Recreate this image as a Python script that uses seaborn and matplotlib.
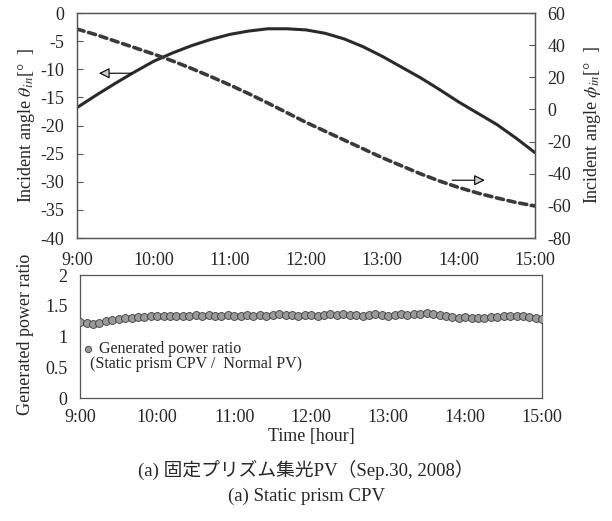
import numpy as np
import pandas as pd
import matplotlib
matplotlib.use("Agg")
import matplotlib.pyplot as plt
import seaborn as sns

# ---------------- data ----------------
hour_ticks = [9, 10, 11, 12, 13, 14, 15]
hour_labels = ["9:00", "10:00", "11:00", "12:00", "13:00", "14:00", "15:00"]

# angles every 15 minutes from 9:00 to 15:00
angle_time = np.arange(9.0, 15.001, 0.25)
theta_in = [-16.8, -14.6, -12.5, -10.5, -8.6, -7.1, -5.8, -4.7, -3.8, -3.2, -2.8,
            -2.8, -3.0, -3.6, -4.6, -6.0, -7.7, -9.6, -11.5, -13.6, -15.8, -17.8,
            -19.8, -22.2, -24.8]
phi_in = [50, 46.5, 42.5, 38.5, 34.5, 30.2, 25.5, 20.5, 15.3, 9.8, 4, -2, -8, -13.5,
          -19, -24.5, -30, -35, -40, -44.5, -48.5, -52, -55, -57.8, -60]

# generated power ratio every 5 minutes
ratio_time = np.arange(9.0, 15.001, 5 / 60)
power_ratio = [1.23, 1.22, 1.21, 1.22, 1.25, 1.27, 1.29, 1.30, 1.31, 1.32, 1.32, 1.33,
               1.33, 1.33, 1.34, 1.34, 1.33, 1.34, 1.35, 1.34, 1.35, 1.34, 1.34, 1.35,
               1.34, 1.34, 1.35, 1.34, 1.35, 1.34, 1.35, 1.36, 1.35, 1.35, 1.34, 1.35,
               1.35, 1.34, 1.35, 1.36, 1.35, 1.36, 1.35, 1.35, 1.34, 1.35, 1.36, 1.35,
               1.34, 1.35, 1.36, 1.35, 1.36, 1.37, 1.38, 1.37, 1.35, 1.33, 1.32, 1.31,
               1.32, 1.30, 1.30, 1.31, 1.32, 1.32, 1.33, 1.34, 1.33, 1.33, 1.32, 1.30,
               1.28]

left_ticks = [0, -5, -10, -15, -20, -25, -30, -35, -40]
right_ticks = [60, 40, 20, 0, -20, -40, -60, -80]
ratio_ticks = [0, 0.5, 1, 1.5, 2]
ratio_tick_labels = ["0", "0.5", "1", "1.5", "2"]

# ---------------- style ----------------
sns.set_style("white")
plt.rcParams["font.family"] = ["Liberation Serif", "Noto Sans CJK JP"]
plt.rcParams["mathtext.fontset"] = "stix"
FS = 13
spine_c = "#555555"

fig = plt.figure(figsize=(6.12, 5.21), dpi=100)
ax1 = fig.add_axes([0.126, 0.543, 0.748, 0.432])
ax2 = ax1.twinx()
ax3 = fig.add_axes([0.131, 0.236, 0.755, 0.236])

df_a = pd.DataFrame({"t": angle_time, "theta": theta_in, "phi": phi_in})
sns.lineplot(data=df_a, x="t", y="theta", ax=ax1, color="#2a2a2a", lw=2.2)
sns.lineplot(data=df_a, x="t", y="phi", ax=ax2, color="#3a3a3a", lw=2.6)
ax2.lines[0].set_dashes([2.0, 1.3])
ax2.lines[0].set_dash_capstyle("round")

ax1.set_xlim(9, 15)
ax1.set_ylim(-40, 0)
ax2.set_ylim(-80, 60)
ax1.set_xticks(hour_ticks)
ax1.set_xticklabels(hour_labels, fontsize=FS)
ax1.set_yticks(left_ticks)
ax1.set_yticklabels([str(v) for v in left_ticks], fontsize=FS)
ax2.set_yticks(right_ticks)
ax2.set_yticklabels([str(v) for v in right_ticks], fontsize=FS)
ax1.set_xlabel("")
ax1.set_ylabel(r"Incident angle $\theta_{in}$[°  ]", fontsize=FS)
ax2.set_ylabel(r"Incident angle $\phi_{in}$[°  ]", fontsize=FS, labelpad=8)

for a in (ax1, ax2, ax3):
    for s in a.spines.values():
        s.set_color(spine_c)
        s.set_linewidth(0.9)
    a.tick_params(direction="in", length=4, width=0.8, color=spine_c, pad=9)
ax1.tick_params(axis="x", pad=10)
ax3.tick_params(axis="x", pad=8)
ax1.yaxis.set_label_coords(-0.087, 0.5)

# arrows
ax1.annotate("", xy=(9.25, -10.7), xytext=(9.75, -10.7),
             arrowprops=dict(arrowstyle="-|>", color="black", fc="#cccccc",
                             lw=0.8, mutation_scale=16))
ax2.annotate("", xy=(14.38, -44), xytext=(13.88, -44),
             arrowprops=dict(arrowstyle="-|>", color="black", fc="#cccccc",
                             lw=0.8, mutation_scale=16))

# bottom panel
df_r = pd.DataFrame({"t": ratio_time, "ratio": power_ratio})
sns.scatterplot(data=df_r, x="t", y="ratio", ax=ax3, s=32, color="#9a9a9a",
                edgecolor="#3a3a3a", linewidth=0.6, label="Generated power ratio",
                zorder=3)
ax3.set_xlim(9, 15)
ax3.set_ylim(0, 2)
ax3.set_xticks(hour_ticks)
ax3.set_xticklabels(hour_labels, fontsize=FS)
ax3.set_yticks(ratio_ticks)
ax3.set_yticklabels(ratio_tick_labels, fontsize=FS)
ax3.set_xlabel("Time [hour]", fontsize=FS, labelpad=1)
ax3.set_ylabel("Generated power ratio", fontsize=FS)
ax3.yaxis.set_label_coords(-0.10, 0.52)
leg = ax3.legend(loc="center left", bbox_to_anchor=(0.0, 0.40), frameon=False,
                 fontsize=11.5, handletextpad=0.2, borderaxespad=0, handlelength=1.0,
                 borderpad=0, markerscale=0.8)
ax3.text(0.022, 0.28, "(Static prism CPV /  Normal PV)", transform=ax3.transAxes,
         fontsize=11.5, va="center", ha="left")

fig.text(0.5, 0.098, "(a) 固定プリズム集光PV（Sep.30, 2008）", ha="center", va="center",
         fontsize=13.5)
fig.text(0.5, 0.047, "(a) Static prism CPV", ha="center", va="center", fontsize=13.5)

fig.savefig("out.png", dpi=100)
